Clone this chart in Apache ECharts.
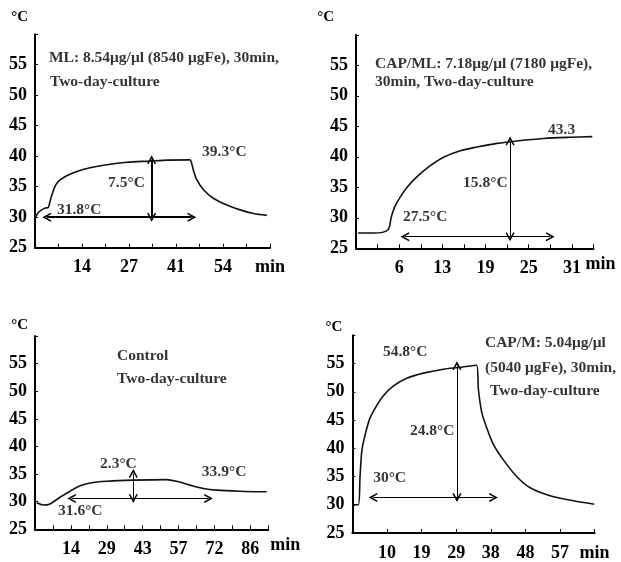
<!DOCTYPE html>
<html>
<head>
<meta charset="utf-8">
<script src="https://cdn.jsdelivr.net/npm/echarts@6/dist/echarts.min.js"></script>
<style>
  html, body { margin: 0; padding: 0; background: #fff; }
  #chart { width: 621px; height: 562px; }
</style>
</head>
<body>
<div id="chart"></div>
<script>
// ML panel (top left)
const mlTime = [0.2, 1, 1.9, 3, 3.8, 4.2, 4.6, 5, 5.7, 6.6, 7.2, 9.1, 12, 15.8, 20.6, 26.3, 33, 38, 44.5, 45, 45.5, 46.5, 48.4, 51.2, 55.1, 58.9, 62.7, 66.6]
const mlTemp = [30.0, 30.8, 31.2, 31.5, 31.6, 32.3, 33.2, 33.9, 35, 35.8, 36.1, 36.8, 37.5, 38.1, 38.6, 39.0, 39.2, 39.35, 39.4, 38.8, 37.7, 36.1, 34.5, 33.1, 32, 31.2, 30.6, 30.3]
const mlTicks = ['14', '27', '41', '54']
const mlArrows = [[[3.4, 30], [45, 30]], [[33.5, 39.4], [33.5, 30]]]
const mlNotes = [
  [4.0, 56.1, 'ML: 8.54μg/μl (8540 μgFe), 30min,'],
  [4.3, 52.2, 'Two-day-culture'],
  [48, 40.7, '39.3°C'],
  [21, 35.6, '7.5°C'],
  [6.3, 31.2, '31.8°C'],
]

// CAP/ML panel (top right)
const capMlTime = [0.3, 2.5, 4.6, 5.1, 5.6, 6.4, 7.4, 8.8, 10.7, 12.6, 15.1, 17.5, 20.4, 23.3, 27.1, 31.0, 34.2]
const capMlTemp = [27.5, 27.5, 28.0, 30.1, 31.8, 33.4, 35.0, 36.7, 38.5, 39.9, 41.0, 41.6, 42.2, 42.6, 43.0, 43.2, 43.3]
const capMlTicks = ['6', '13', '19', '25', '31']
const capMlArrows = [[[7.1, 26.9], [28.1, 26.9]], [[22.3, 42.6], [22.3, 26.9]]]
const capMlNotes = [
  [2.75, 55.2, 'CAP/ML: 7.18μg/μl (7180 μgFe),'],
  [2.75, 52.3, '30min, Two-day-culture'],
  [27.8, 44.4, '43.3'],
  [15.5, 35.7, '15.8°C'],
  [6.8, 30.1, '27.5°C'],
]

// Control panel (bottom left)
const ctrlTime = [0.7, 3.3, 6, 10, 14, 18, 22, 28.7, 39.3, 52.6, 56.6, 62, 67.3, 72.6, 81.9, 92.6]
const ctrlTemp = [29.8, 29.4, 29.6, 30.8, 31.9, 32.9, 33.4, 33.7, 33.9, 34.0, 33.7, 33.0, 32.4, 32.1, 31.9, 31.8]
const ctrlTicks = ['14', '29', '43', '57', '72', '86']
const ctrlArrows = [[[14.7, 30.6], [69.3, 30.6]], [[39.3, 35.1], [39.3, 30.6]]]
const ctrlNotes = [
  [32.8, 56.4, 'Control'],
  [32.8, 52.2, 'Two-day-culture'],
  [26, 36.8, '2.3°C'],
  [66.7, 35.3, '33.9°C'],
  [9.2, 28.3, '31.6°C'],
]

// CAP/M panel (bottom right)
const capMTime = [0.25, 1.6, 2.1, 2.6, 3.5, 4.8, 6.7, 8.5, 11.2, 14.9, 19.5, 25, 29.1, 34.1, 34.6, 35.5, 36.9, 38.7, 41.5, 45.1, 48.8, 54.3, 60.7, 66.4]
const capMTemp = [30, 30, 35, 39.6, 42.4, 45.3, 47.6, 49.3, 51, 52.4, 53.3, 54, 54.3, 54.7, 50.4, 46.4, 43.6, 40.7, 37.9, 35, 33, 31.6, 30.7, 30.1]
const capMTicks = ['10', '19', '29', '38', '48', '57']
const capMArrows = [[[5.7, 31.3], [38.7, 31.3]], [[28.7, 54.6], [28.7, 31.3]]]
const capMNotes = [
  [36.4, 58.7, 'CAP/M: 5.04μg/μl'],
  [36.4, 54.2, '(5040 μgFe), 30min,'],
  [37.8, 50.1, 'Two-day-culture'],
  [8.4, 57, '54.8°C'],
  [15.8, 43, '24.8°C'],
  [5.7, 34.7, '30°C'],
]

const FONT = "'Liberation Serif', 'Times New Roman', serif"
const chevron = 'path://M5,0L10,9L8.6,9.8L5,3.6L1.4,9.8L0,9Z'

// minAt: 'label' puts "min" as last tick label, a number puts it as axis name with that gap
const panels = [
  { time: mlTime, temp: mlTemp, ticks: mlTicks, arrows: mlArrows, notes: mlNotes,
    step: 6.75, every: 2, max: 67.5, minAt: 'label', arrowWidth: 2,
    grid: { left: 35, top: 34.2, width: 235, height: 213.5 }, unitPad: 7, unitGap: 10 },
  { time: capMlTime, temp: capMlTemp, ticks: capMlTicks, arrows: capMlArrows, notes: capMlNotes,
    step: 3.125, every: 2, max: 34.375, minAt: -8, arrowWidth: 1,
    grid: { left: 356, top: 34.8, width: 237.5, height: 213.5 }, unitPad: 22, unitGap: 10 },
  { time: ctrlTime, temp: ctrlTemp, ticks: ctrlTicks, arrows: ctrlArrows, notes: ctrlNotes,
    step: 7.175, every: 2, max: 93.275, minAt: 2, arrowWidth: 1,
    grid: { left: 35, top: 336.1, width: 233.3, height: 193.2 }, unitPad: 7, unitGap: 3 },
  { time: capMTime, temp: capMTemp, ticks: capMTicks, arrows: capMArrows, notes: capMNotes,
    step: 9.5, every: 1, max: 66.5, minAt: 'label', arrowWidth: 1,
    grid: { left: 352.4, top: 335.3, width: 242.2, height: 204 }, unitPad: 10, unitGap: 1 },
]

const axisText = { color: '#000', fontFamily: FONT, fontWeight: 'bold', fontSize: 18 }

const chart = echarts.init(document.getElementById('chart'))

const option = {
  animation: false,
  backgroundColor: '#fff',
  grid: panels.map((p) => p.grid),
  xAxis: panels.map((p, i) => ({
    type: 'value',
    gridIndex: i,
    min: 0,
    max: p.max,
    interval: p.step,
    name: p.minAt === 'label' ? '' : 'min',
    nameLocation: 'end',
    nameGap: p.minAt === 'label' ? 0 : p.minAt,
    nameTextStyle: { ...axisText, verticalAlign: 'top', padding: [7, 0, 0, 0] },
    axisLine: { show: true, onZero: false, lineStyle: { color: '#000', width: 2 } },
    axisTick: { show: true, inside: true, length: 4, lineStyle: { color: '#000', width: 1 } },
    splitLine: { show: false },
    axisLabel: {
      ...axisText,
      margin: 11,
      hideOverlap: false,
      showMinLabel: true,
      showMaxLabel: true,
      formatter: (v) => {
        const k = Math.round(v / p.step)
        if (Math.abs(v - p.max) < 1e-6) return p.minAt === 'label' ? 'min' : ''
        if (k <= 0 || k % p.every !== 0) return ''
        return p.ticks[k / p.every - 1] || ''
      },
    },
  })),
  yAxis: panels.map((p, i) => ({
    type: 'value',
    gridIndex: i,
    min: 25,
    max: 60,
    interval: 5,
    name: '°C',
    nameLocation: 'end',
    nameGap: p.unitGap,
    nameTextStyle: { color: '#000', fontFamily: FONT, fontWeight: 'bold', fontSize: 15, align: 'right', padding: [0, p.unitPad, 0, 0] },
    axisLine: { show: true, onZero: false, lineStyle: { color: '#000', width: 2 } },
    axisTick: { show: true, inside: true, length: 3, lineStyle: { color: '#000', width: 1 } },
    splitLine: { show: false },
    axisLabel: { ...axisText, margin: 8, formatter: (v) => (v === 60 ? '' : v) },
  })),
  series: panels.flatMap((p, i) => [
    {
      type: 'line',
      xAxisIndex: i,
      yAxisIndex: i,
      showSymbol: false,
      smooth: 0.3,
      lineStyle: { color: '#111', width: 1.6 },
      data: p.time.map((t, j) => [t, p.temp[j]]),
    },
    {
      type: 'lines',
      coordinateSystem: 'cartesian2d',
      xAxisIndex: i,
      yAxisIndex: i,
      symbol: [chevron, chevron],
      symbolSize: 9,
      lineStyle: { color: '#000', width: p.arrowWidth, opacity: 1, curveness: 0 },
      data: p.arrows.map((a) => ({ coords: a })),
    },
    {
      type: 'scatter',
      xAxisIndex: i,
      yAxisIndex: i,
      symbolSize: 0,
      data: p.notes,
      label: {
        show: true,
        position: 'right',
        distance: 0,
        color: '#000',
        fontFamily: FONT,
        fontWeight: 'bold',
        fontSize: 15.5,
        formatter: (d) => d.data[2],
      },
    },
  ]),
}

chart.setOption(option)
</script>
</body>
</html>
